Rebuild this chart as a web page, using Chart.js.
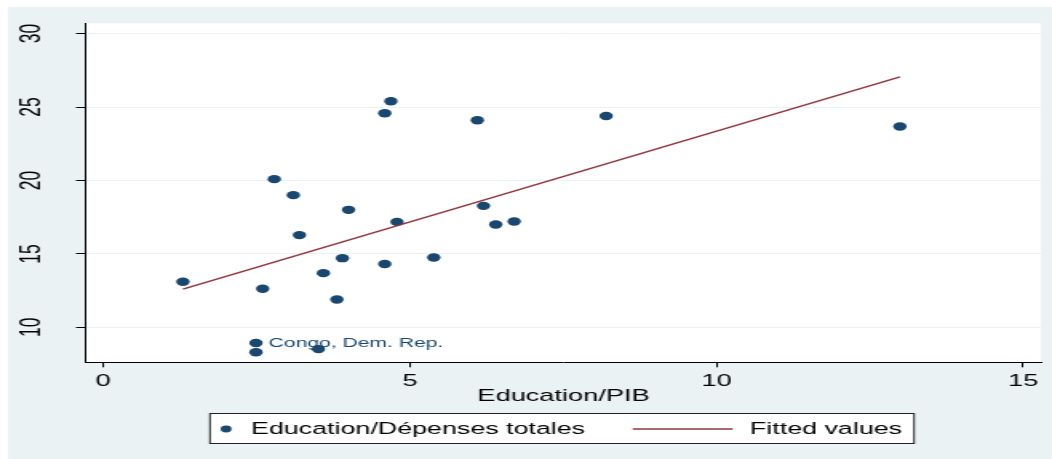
<!DOCTYPE html>
<html>
<head>
<meta charset="utf-8">
<script src="https://cdn.jsdelivr.net/npm/chart.js@4.4.0/dist/chart.umd.min.js"></script>
<style>
html, body { margin: 0; padding: 0; background: #fff; overflow: hidden; }
/* the original graph is stretched sideways, so draw narrow and widen it */
#wrap { width: 658px; height: 459px; transform: scaleX(1.598784); transform-origin: 0 0; }
</style>
</head>
<body>
<div id="wrap"><canvas id="scatterChart" width="658" height="459"></canvas></div>
<script>
// Education/PIB (x) vs Education/Depenses totales (y)
var eduPib = [1.30, 2.60, 2.79, 3.10, 3.20, 2.49, 2.49, 3.51, 3.59, 3.81, 3.90, 4.00,
              4.59, 4.69, 4.59, 4.79, 5.39, 6.10, 6.20, 6.40, 6.70, 8.20, 12.99];
var eduDep = [13.10, 12.63, 20.09, 19.00, 16.28, 8.93, 8.30, 8.52, 13.69, 11.90, 14.71, 18.00,
              24.58, 25.39, 14.31, 17.18, 14.76, 24.10, 18.27, 17.00, 17.21, 24.39, 23.67];
var pointLabels = ['', '', '', '', '', 'Congo, Dem. Rep.', '', '', '', '', '', '',
                   '', '', '', '', '', '', '', '', '', '', ''];
var fittedX = [1.30, 12.99];
var fittedY = [12.60, 27.05];
var xTicks = [0, 5, 10, 15];
var yTicks = [10, 15, 20, 25, 30];

var navy = '#1a476f';
var maroon = '#90353b';
var panel = '#eaf2f3';

Chart.defaults.font.family = "'Liberation Sans', Arial, sans-serif";

var background = {
    id: 'background',
    beforeDraw: function (chart) {
        var ctx = chart.ctx, a = chart.chartArea;
        ctx.save();
        ctx.fillStyle = '#fff';
        ctx.fillRect(0, 0, chart.width, chart.height);
        ctx.fillStyle = panel;
        ctx.fillRect(5, 7, chart.width - 5, chart.height - 7);
        ctx.fillStyle = '#fff';
        ctx.fillRect(a.left, a.top, a.right - a.left, a.bottom - a.top);
        ctx.restore();
    }
};

// marker labels, to the right of the point
var markerLabels = {
    id: 'markerLabels',
    beforeDatasetsDraw: function (chart) {
        var ctx = chart.ctx;
        var meta = chart.getDatasetMeta(0);
        ctx.save();
        ctx.font = "13.2px 'Liberation Sans', Arial, sans-serif";
        ctx.fillStyle = navy;
        ctx.textBaseline = 'middle';
        meta.data.forEach(function (el, i) {
            if (pointLabels[i]) ctx.fillText(pointLabels[i], el.x + 8, el.y + 0.5);
        });
        ctx.restore();
    }
};

// boxed legend under the x title
var legendBox = {
    id: 'legendBox',
    afterDraw: function (chart) {
        var ctx = chart.ctx;
        var ds = chart.data.datasets;
        ctx.save();
        ctx.fillStyle = '#fff';
        ctx.fillRect(131.3, 413.5, 440.4, 30);
        ctx.strokeStyle = '#222';
        ctx.lineWidth = 1;
        ctx.strokeRect(131.3, 413.5, 440.4, 30);

        ctx.fillStyle = navy;
        ctx.beginPath();
        ctx.arc(141.4, 429, 3.4, 0, Math.PI * 2);
        ctx.fill();

        ctx.strokeStyle = maroon;
        ctx.lineWidth = 1.3;
        ctx.beginPath();
        ctx.moveTo(395.7, 429);
        ctx.lineTo(458.3, 429);
        ctx.stroke();

        ctx.fillStyle = '#000';
        ctx.font = "16.8px 'Liberation Sans', Arial, sans-serif";
        ctx.textBaseline = 'middle';
        ctx.fillText(ds[0].label, 157, 429);
        ctx.fillText(ds[1].label, 469.1, 429);
        ctx.restore();
    }
};

var ctx = document.getElementById('scatterChart');
var myChart = new Chart(ctx, {
    type: 'scatter',
    data: {
        datasets: [{
            label: 'Education/Dépenses totales',
            data: eduPib.map(function (x, i) { return {x: x, y: eduDep[i]}; }),
            backgroundColor: navy,
            borderColor: navy,
            pointRadius: 4.2,
            pointBorderWidth: 0,
            order: 2
        }, {
            label: 'Fitted values',
            data: fittedX.map(function (x, i) { return {x: x, y: fittedY[i]}; }),
            showLine: true,
            borderColor: maroon,
            borderWidth: 1.4,
            pointRadius: 0,
            order: 1
        }]
    },
    options: {
        responsive: false,
        animation: false,
        layout: {
            padding: {left: 0, top: 23.3, right: 6.9, bottom: 52.5}
        },
        plugins: {
            legend: {display: false},
            tooltip: {enabled: false}
        },
        scales: {
            x: {
                type: 'linear',
                min: -0.28,
                max: 15.29,
                afterBuildTicks: function (axis) {
                    axis.ticks = xTicks.map(function (v) { return {value: v}; });
                },
                afterFit: function (axis) {
                    axis.height = 44.2;
                    axis.paddingLeft = 0;
                    axis.paddingRight = 0;
                },
                grid: {drawOnChartArea: false, tickLength: 5, tickColor: '#000'},
                border: {color: '#000', width: 1},
                ticks: {color: '#000', font: {size: 17}, padding: 3.7, maxRotation: 0, autoSkip: false},
                title: {display: true, text: 'Education/PIB', color: '#000', font: {size: 17}, padding: 0}
            },
            y: {
                type: 'linear',
                min: 7.62,
                max: 30.7,
                afterBuildTicks: function (axis) {
                    axis.ticks = yTicks.map(function (v) { return {value: v}; });
                },
                afterFit: function (axis) {
                    axis.width = 53.8;
                    axis.paddingTop = 0;
                    axis.paddingBottom = 0;
                },
                grid: {color: panel, tickColor: '#000', tickLength: 6.25},
                border: {color: '#000', width: 1},
                ticks: {
                    color: '#000', font: {size: 17.5}, padding: 17.5,
                    minRotation: 90, maxRotation: 90, crossAlign: 'center', autoSkip: false
                }
            }
        }
    },
    plugins: [background, markerLabels, legendBox]
});
</script>
</body>
</html>
